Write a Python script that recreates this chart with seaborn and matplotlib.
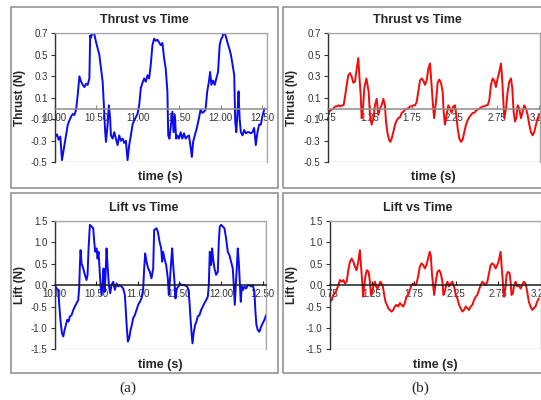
import numpy as np
import pandas as pd
import matplotlib
matplotlib.use('Agg')
import matplotlib.pyplot as plt
import seaborn as sns
from matplotlib.patches import Rectangle

# (a) thrust, blue
thrust_a_t = [10.00, 10.01, 10.03, 10.05, 10.07, 10.09, 10.12, 10.14, 10.16, 10.18, 10.20, 10.22,
              10.24, 10.26, 10.28, 10.30, 10.32, 10.34, 10.36, 10.38, 10.40, 10.42, 10.43, 10.44,
              10.46, 10.48, 10.50, 10.52, 10.54, 10.56, 10.58, 10.595, 10.61, 10.62, 10.64, 10.655,
              10.67, 10.68, 10.70, 10.72, 10.74, 10.76, 10.78, 10.80, 10.82, 10.84, 10.86, 10.88,
              10.90, 10.92, 10.94, 10.96, 10.98, 11.00, 11.02, 11.04, 11.06, 11.08, 11.10, 11.12,
              11.14, 11.16, 11.18, 11.20, 11.22, 11.24, 11.28, 11.30, 11.32, 11.34, 11.36, 11.37,
              11.385, 11.40, 11.42, 11.435, 11.45, 11.465, 11.48, 11.50, 11.52, 11.54, 11.56, 11.58,
              11.60, 11.62, 11.64, 11.655, 11.67, 11.69, 11.715, 11.74, 11.76, 11.78, 11.80, 11.82,
              11.84, 11.86, 11.875, 11.89, 11.91, 11.93, 11.95, 11.97, 11.99, 12.005, 12.025, 12.04,
              12.065, 12.085, 12.105, 12.125, 12.145, 12.165, 12.177, 12.19, 12.205, 12.217, 12.23,
              12.245, 12.265, 12.285, 12.305, 12.325, 12.345, 12.365, 12.385, 12.405, 12.425, 12.445,
              12.465, 12.485, 12.505, 12.53]
thrust_a = [-0.17, -0.26, -0.24, -0.29, -0.26, -0.48, -0.34, -0.25, -0.15, -0.11, -0.075, -0.05,
            -0.06, -0.01, 0.13, 0.30, 0.25, 0.22, 0.20, 0.23, 0.22, 0.28, 0.68, 0.66,
            0.72, 0.69, 0.62, 0.56, 0.50, 0.375, 0.25, 0.03, -0.21, -0.31, -0.15, 0.03,
            -0.09, -0.25, -0.28, -0.22, -0.28, -0.34, -0.25, -0.30, -0.28, -0.32, -0.30, -0.48,
            -0.34, -0.25, -0.15, -0.11, -0.08, -0.05, 0.03, 0.19, 0.24, 0.28, 0.25, 0.31,
            0.28, 0.41, 0.59, 0.65, 0.63, 0.64, 0.59, 0.61, 0.47, 0.37, 0.16, -0.25,
            -0.28, -0.17, -0.03, -0.22, -0.06, -0.28, -0.25, -0.28, -0.22, -0.28, -0.23, -0.28,
            -0.26, -0.25, -0.36, -0.45, -0.31, -0.25, -0.18, -0.09, -0.01, -0.04, -0.03, -0.01,
            0.16, 0.25, 0.34, 0.22, 0.26, 0.22, 0.28, 0.34, 0.59, 0.64, 0.67, 0.72,
            0.67, 0.61, 0.56, 0.50, 0.41, 0.31, -0.12, -0.22, -0.03, 0.16, -0.09,
            -0.22, -0.25, -0.20, -0.23, -0.22, -0.22, -0.23, -0.22, -0.18, -0.34, -0.22,
            -0.15, -0.15, -0.07, 0.0]

# (b) thrust, red
thrust_b_t = [0.75, 0.76, 0.78, 0.80, 0.82, 0.84, 0.86, 0.88, 0.90, 0.92, 0.94, 0.957, 0.977,
              0.996, 1.016, 1.035, 1.055, 1.075, 1.095, 1.114, 1.126, 1.142, 1.154, 1.170, 1.185,
              1.201, 1.21, 1.236, 1.252, 1.272, 1.292, 1.311, 1.331, 1.351, 1.370, 1.39, 1.41,
              1.429, 1.441, 1.457, 1.477, 1.493, 1.508, 1.528, 1.548, 1.568, 1.587, 1.607, 1.627,
              1.646, 1.666, 1.686, 1.706, 1.725, 1.745, 1.765, 1.784, 1.804, 1.824, 1.843, 1.863,
              1.883, 1.902, 1.922, 1.942, 1.962, 1.980, 1.995, 2.010, 2.032, 2.052, 2.071, 2.091,
              2.111, 2.123, 2.138, 2.158, 2.178, 2.198, 2.217, 2.237, 2.257, 2.272, 2.288, 2.308,
              2.328, 2.347, 2.367, 2.387, 2.406, 2.426, 2.446, 2.466, 2.485, 2.505, 2.525, 2.545,
              2.564, 2.584, 2.603, 2.623, 2.643, 2.663, 2.682, 2.702, 2.722, 2.741, 2.761, 2.781,
              2.80, 2.812, 2.828, 2.84, 2.86, 2.88, 2.899, 2.919, 2.934, 2.95, 2.966, 2.982,
              2.998, 3.017, 3.037, 3.057, 3.076, 3.096, 3.116, 3.135, 3.155, 3.175, 3.194, 3.214,
              3.234, 3.254]
thrust_b = [-0.08, -0.04, -0.02, -0.01, 0.0, 0.02, 0.02, 0.03, 0.02, 0.03, 0.03, 0.11, 0.22,
            0.31, 0.33, 0.30, 0.24, 0.25, 0.37, 0.47, 0.31, 0.13, -0.09, 0.0, 0.19,
            0.25, 0.28, 0.16, -0.06, -0.15, -0.09, 0.03, 0.09, -0.06, 0.0, 0.03, 0.09,
            0.03, -0.12, -0.22, -0.29, -0.31, -0.28, -0.22, -0.15, -0.11, -0.09, -0.08, -0.04,
            -0.03, -0.01, 0.0, 0.0, 0.02, 0.02, 0.03, 0.03, 0.06, 0.16, 0.26, 0.28,
            0.26, 0.22, 0.26, 0.37, 0.42, 0.22, 0.05, -0.09, 0.06, 0.24, 0.27, 0.24,
            0.16, -0.03, -0.15, -0.06, 0.03, 0.0, -0.04, 0.02, 0.03, -0.06, -0.18, -0.28,
            -0.31, -0.29, -0.22, -0.15, -0.11, -0.08, -0.06, -0.04, -0.04, -0.02, -0.01, 0.0,
            0.01, 0.02, 0.02, 0.03, 0.03, 0.08, 0.22, 0.28, 0.26, 0.20, 0.28, 0.34,
            0.42, 0.31, 0.09, -0.09, 0.0, 0.16, 0.25, 0.28, 0.19, -0.03, -0.12, -0.09,
            0.03, 0.0, -0.09, -0.03, 0.03, 0.0, -0.06, -0.15, -0.22, -0.25, -0.22, -0.15,
            -0.09, -0.06]

# (a) lift, blue
lift_a_t = [10.00, 10.005, 10.025, 10.045, 10.057, 10.073, 10.089, 10.105, 10.121, 10.137, 10.153,
            10.169, 10.185, 10.205, 10.225, 10.245, 10.265, 10.285, 10.297, 10.305, 10.313, 10.325,
            10.345, 10.365, 10.385, 10.397, 10.409, 10.425, 10.445, 10.465, 10.477, 10.489, 10.505,
            10.517, 10.529, 10.541, 10.553, 10.565, 10.577, 10.589, 10.601, 10.613, 10.625, 10.637,
            10.653, 10.669, 10.685, 10.705, 10.725, 10.745, 10.765, 10.785, 10.805, 10.825, 10.845,
            10.857, 10.869, 10.881, 10.897, 10.913, 10.929, 10.945, 10.965, 10.985, 11.005, 11.025,
            11.045, 11.065, 11.077, 11.089, 11.105, 11.125, 11.145, 11.165, 11.185, 11.197, 11.225,
            11.241, 11.261, 11.281, 11.293, 11.305, 11.321, 11.341, 11.361, 11.373, 11.385, 11.401,
            11.413, 11.425, 11.441, 11.453, 11.469, 11.489, 11.505, 11.529, 11.561, 11.593, 11.609,
            11.621, 11.633, 11.645, 11.657, 11.673, 11.689, 11.705, 11.721, 11.741, 11.761, 11.781,
            11.801, 11.821, 11.841, 11.853, 11.865, 11.881, 11.893, 11.905, 11.921, 11.941, 11.961,
            11.973, 11.985, 12.001, 12.021, 12.041, 12.061, 12.081, 12.101, 12.121, 12.141, 12.153,
            12.165, 12.177, 12.189, 12.201, 12.213, 12.225, 12.237, 12.249, 12.265, 12.281, 12.301,
            12.321, 12.341, 12.361, 12.381, 12.401, 12.413, 12.425, 12.441, 12.461, 12.481, 12.501,
            12.521, 12.541]
lift_a = [0.02, 0.0, -0.08, -0.11, -0.46, -0.85, -1.12, -1.20, -1.05, -0.93, -0.81,
          -0.85, -0.73, -0.70, -0.58, -0.50, -0.42, -0.35, -0.04, 0.47, 0.82, 0.51,
          0.39, 0.24, 0.12, 0.24, 0.86, 1.41, 1.37, 1.33, 1.02, 0.78, 0.86,
          0.62, 0.78, 0.39, 0.0, -0.23, 0.0, 0.39, -0.16, 0.24, 0.86, 0.47,
          0.0, -0.19, 0.0, 0.08, -0.11, 0.04, -0.03, 0.0, -0.03, -0.08, -0.23,
          -0.62, -1.01, -1.32, -1.24, -1.05, -0.93, -0.77, -0.70, -0.58, -0.46, -0.39,
          -0.31, -0.08, 0.39, 0.74, 0.55, 0.39, 0.31, 0.16, 0.39, 1.29, 1.33,
          1.25, 1.02, 0.86, 0.55, 0.78, 0.62, 0.47, 0.16, -0.23, 0.08, 0.55,
          0.86, 0.47, 0.08, -0.31, -0.08, -0.03, 0.04, 0.0, 0.0, -0.03, -0.11,
          -0.39, -0.77, -1.09, -1.36, -1.09, -0.93, -0.85, -0.73, -0.70, -0.58, -0.50,
          -0.42, -0.35, -0.27, 0.0, 0.78, 0.47, 0.86, 0.62, 0.39, 0.24, 0.31,
          1.02, 1.37, 1.41, 1.37, 1.33, 1.09, 0.78, 0.70, 0.55, 0.39, 0.0,
          -0.46, 0.0, 0.39, 0.86, 0.55, 0.08, -0.39, -0.03, -0.11, -0.03, -0.08,
          0.0, 0.0, -0.03, 0.0, -0.15, -0.62, -0.93, -1.05, -1.09, -0.97, -0.89,
          -0.81, -0.70]

# (b) lift, red
lift_b_t = [0.75, 0.776, 0.795, 0.815, 0.835, 0.855, 0.874, 0.894, 0.914, 0.933, 0.953, 0.973,
            0.992, 1.012, 1.032, 1.052, 1.071, 1.091, 1.11, 1.123, 1.138, 1.150, 1.162, 1.178,
            1.193, 1.213, 1.229, 1.241, 1.256, 1.272, 1.288, 1.304, 1.32, 1.335, 1.351, 1.367,
            1.383, 1.398, 1.414, 1.430, 1.446, 1.465, 1.485, 1.505, 1.524, 1.544, 1.564, 1.584,
            1.603, 1.623, 1.642, 1.662, 1.682, 1.702, 1.721, 1.741, 1.761, 1.781, 1.80, 1.82,
            1.84, 1.86, 1.879, 1.899, 1.918, 1.938, 1.950, 1.965, 1.990, 2.009, 2.029, 2.049,
            2.068, 2.088, 2.100, 2.115, 2.131, 2.147, 2.167, 2.186, 2.206, 2.226, 2.246, 2.265,
            2.285, 2.305, 2.324, 2.344, 2.364, 2.384, 2.403, 2.423, 2.443, 2.462, 2.482, 2.502,
            2.521, 2.541, 2.561, 2.580, 2.60, 2.62, 2.64, 2.659, 2.679, 2.699, 2.718, 2.738,
            2.758, 2.777, 2.789, 2.805, 2.817, 2.833, 2.848, 2.864, 2.884, 2.896, 2.907, 2.923,
            2.935, 2.955, 2.974, 2.994, 3.014, 3.033, 3.053, 3.073, 3.093, 3.112, 3.132, 3.152,
            3.171, 3.191, 3.21, 3.23]
lift_b = [-0.40, -0.35, -0.23, -0.19, -0.11, 0.0, 0.12, 0.08, 0.12, 0.04, 0.08, 0.35,
          0.55, 0.62, 0.55, 0.43, 0.35, 0.55, 0.82, 0.47, 0.08, -0.27, 0.0, 0.24,
          0.35, 0.31, 0.08, -0.23, -0.16, 0.0, 0.08, -0.04, -0.08, 0.0, 0.08, 0.04,
          -0.04, -0.23, -0.39, -0.46, -0.54, -0.58, -0.62, -0.58, -0.50, -0.46, -0.50, -0.42,
          -0.46, -0.50, -0.42, -0.27, -0.23, -0.11, 0.0, 0.04, 0.0, 0.04, 0.20, 0.43,
          0.51, 0.47, 0.39, 0.47, 0.62, 0.78, 0.70, 0.24, -0.23, 0.08, 0.31, 0.35,
          0.28, 0.08, -0.23, -0.16, 0.0, 0.08, -0.03, 0.04, 0.08, -0.03, -0.23, -0.31,
          -0.46, -0.54, -0.62, -0.58, -0.50, -0.54, -0.58, -0.50, -0.46, -0.35, -0.27, -0.23,
          -0.11, 0.0, 0.08, 0.04, 0.0, 0.08, 0.28, 0.47, 0.51, 0.47, 0.39, 0.47,
          0.59, 0.78, 0.47, 0.08, -0.27, -0.08, 0.24, 0.31, 0.28, 0.08, -0.23, -0.19,
          -0.03, 0.08, -0.03, 0.0, -0.08, 0.0, 0.08, 0.04, -0.16, -0.39, -0.50, -0.58,
          -0.54, -0.50, -0.39, -0.31]

thrust_ticks = [0.7, 0.5, 0.3, 0.1, -0.1, -0.3, -0.5]
thrust_labels = ['0.7', '0.5', '0.3', '0.1', '-0.1', '-0.3', '-0.5']
lift_ticks = [1.5, 1.0, 0.5, 0.0, -0.5, -1.0, -1.5]
lift_labels = ['1.5', '1.0', '0.5', '0.0', '-0.5', '-1.0', '-1.5']
time_a_ticks = [10.0, 10.5, 11.0, 11.5, 12.0, 12.5]
time_a_labels = ['10.00', '10.50', '11.00', '11.50', '12.00', '12.50']
time_b_ticks = [0.75, 1.25, 1.75, 2.25, 2.75, 3.25]
time_b_labels = ['0.75', '1.25', '1.75', '2.25', '2.75', '3.25']

sns.set_style('white')
plt.rcParams['font.family'] = ['Liberation Sans', 'DejaVu Sans']

W, H = 541, 400
fig = plt.figure(figsize=(W / 100, H / 100), dpi=100)


def px_axes(left, top, right, bottom):
    return fig.add_axes([left / W, 1 - bottom / H, (right - left) / W, (bottom - top) / H])


def frame(left, top, right, bottom):
    fig.add_artist(Rectangle((left / W, 1 - bottom / H), (right - left) / W, (bottom - top) / H,
                             transform=fig.transFigure, fill=False, ec='#8a8a8a', lw=1.1))


def panel(ax, t, y, color, xlim, ylim, yticks, ylabels, xticks, xlabels, ylabel,
          zero_color, ylab_x, xlab_y):
    df = pd.DataFrame({'time': t, 'value': y})
    sns.lineplot(data=df, x='time', y='value', ax=ax, color=color, lw=1.4,
                 estimator=None, sort=False)
    ax.set_xlim(xlim)
    ax.set_ylim(ylim)
    ax.set_yticks(yticks)
    ax.set_yticklabels(ylabels)
    ax.set_xticks(xticks)
    ax.set_xticklabels(xlabels)
    # category axis crosses at zero, like the spreadsheet original
    ax.spines['bottom'].set_position(('data', 0))
    ax.spines['bottom'].set_color(zero_color)
    ax.spines['bottom'].set_linewidth(1.1)
    for s in ['top', 'right']:
        ax.spines[s].set_color('#a6a6a6')
        ax.spines[s].set_linewidth(0.9)
    ax.spines['left'].set_color('#333333')
    ax.spines['left'].set_linewidth(1.0)
    ax.add_patch(Rectangle((0, 0), 1, 1, transform=ax.transAxes, fill=False,
                           ec='#a6a6a6', lw=0.9, zorder=0))
    ax.tick_params(axis='y', direction='out', length=3, width=0.8, color='#333333',
                   labelsize=7, pad=2, labelcolor='#333333', left=True)
    ax.tick_params(axis='x', direction='in', length=3, width=0.8, color=zero_color,
                   labelsize=7, pad=3, labelcolor='#333333', bottom=True)
    ax.set_ylabel(ylabel, fontsize=8.5, fontweight='bold', va='center')
    ax.yaxis.set_label_coords(ylab_x, 0.5)
    ax.set_xlabel('time (s)', fontsize=9, fontweight='bold', va='center')
    ax.xaxis.set_label_coords(0.5, xlab_y)


ax1 = px_axes(54.5, 33.3, 267, 162.3)
ax2 = px_axes(327.5, 33.3, 539.5, 162.3)
ax3 = px_axes(54.5, 221, 266, 349.3)
ax4 = px_axes(329.5, 221, 540.5, 349.3)

panel(ax1, thrust_a_t, thrust_a, '#0a0af5', (10.0, 12.56), (-0.5, 0.7), thrust_ticks,
      thrust_labels, time_a_ticks, time_a_labels, 'Thrust (N)', '#8c8c8c', -0.16, -0.112)
panel(ax2, thrust_b_t, thrust_b, '#f50a0a', (0.75, 3.256), (-0.5, 0.7), thrust_ticks,
      thrust_labels, time_b_ticks, time_b_labels, 'Thrust (N)', '#8c8c8c', -0.169, -0.112)
panel(ax3, lift_a_t, lift_a, '#0a0af5', (10.0, 12.54), (-1.5, 1.5), lift_ticks,
      lift_labels, time_a_ticks, time_a_labels, 'Lift (N)', '#1a1a1a', -0.163, -0.122)
panel(ax4, lift_b_t, lift_b, '#f50a0a', (0.75, 3.25), (-1.5, 1.5), lift_ticks,
      lift_labels, time_b_ticks, time_b_labels, 'Lift (N)', '#1a1a1a', -0.179, -0.122)

frame(10.5, 6.5, 278, 187.5)
frame(283, 6.5, 560, 187.5)
frame(10.5, 193, 278, 373)
frame(283, 193, 560, 373)

for x, y, s in [(144, 20, 'Thrust vs Time'), (417.5, 20, 'Thrust vs Time'),
                (144, 208, 'Lift vs Time'), (417.5, 208, 'Lift vs Time')]:
    fig.text(x / W, 1 - y / H, s, ha='center', va='center', fontsize=9, fontweight='bold')

fig.text(128 / W, 1 - 388 / H, '(a)', ha='center', va='center', fontsize=11,
         family=['Liberation Serif', 'DejaVu Serif'])
fig.text(420 / W, 1 - 388 / H, '(b)', ha='center', va='center', fontsize=11,
         family=['Liberation Serif', 'DejaVu Serif'])

fig.savefig('out.png', dpi=100)
